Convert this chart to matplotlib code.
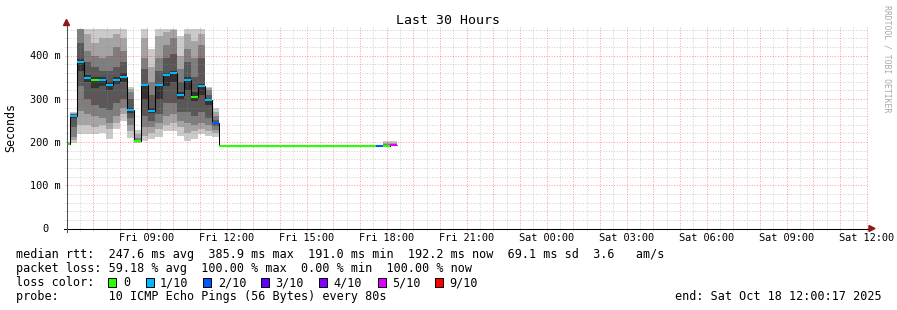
import numpy as np
import matplotlib
matplotlib.use("Agg")
import matplotlib.pyplot as plt
from matplotlib.patches import Rectangle, Polygon
from matplotlib import transforms

# ---------------- data ----------------
title = "Last 30 Hours"
y_label = "Seconds"
x_tick_hours = [3, 6, 9, 12, 15, 18, 21, 24, 27, 30]
x_tick_labels = ["Fri 09:00", "Fri 12:00", "Fri 15:00", "Fri 18:00", "Fri 21:00",
                 "Sat 00:00", "Sat 03:00", "Sat 06:00", "Sat 09:00", "Sat 12:00"]
y_ticks_ms = [100, 200, 300, 400]
y_tick_labels = ["100 m", "200 m", "300 m", "400 m"]
y_max_ms = 463.08
span_hours = 30
step_hours = 16 / 60          # one consolidated sample = 16 min
first_bin_hour = -0.13        # start of first (partly visible) sample

median_ms = [195.0, 261.0, 385.7, 349.0, 344.0, 344.0, 332.0, 344.0, 351.0, 275.0,
             203.0, 333.0, 273.0, 332.0, 356.0, 361.0, 309.0, 344.0, 305.0, 329.0,
             297.0, 244.0,
             191.0, 191.0, 191.0, 191.0, 191.0, 191.0, 191.0, 191.0, 191.0, 191.0, 191.0,
             191.0, 191.0, 191.0, 191.0, 191.0, 191.0, 191.0, 191.0, 191.0, 191.0, 191.0,
             191.0, 191.5, 192.2]

loss_count = [0, 1, 1, 1, 0, 1, 1, 1, 1, 1,
              0, 1, 1, 1, 1, 1, 1, 1, 0, 1,
              1, 2,
              0, 0, 0, 0, 0, 0, 0, 0, 0, 0, 0,
              0, 0, 0, 0, 0, 0, 0, 0, 0, 0, 0,
              2, 0, 5]

pings_ms = [
    [193, 194, 194, 195, 195, 195, 196, 197, 198, 200],
    [198, 205, 212, 236, 256, 263, 265, 266, 268, 270],
    [218, 240, 272, 330, 365, 392, 430, 475, 510, 530],
    [218, 240, 265, 300, 340, 355, 385, 410, 450, 490],
    [218, 235, 260, 285, 325, 350, 375, 400, 430, 500],
    [220, 240, 255, 280, 330, 350, 365, 395, 440, 490],
    [207, 230, 245, 275, 320, 340, 365, 400, 440, 490],
    [230, 245, 260, 290, 335, 350, 375, 420, 450, 490],
    [250, 265, 280, 300, 340, 360, 385, 410, 440, 480],
    [210, 225, 240, 255, 268, 280, 300, 315, 322, 328],
    [199, 200, 201, 202, 202.5, 204, 206, 210, 218, 227],
    [203, 215, 235, 260, 300, 335, 370, 395, 440, 480],
    [207, 220, 235, 250, 268, 280, 310, 340, 375, 415],
    [211, 230, 245, 265, 300, 335, 365, 395, 445, 500],
    [226, 240, 260, 290, 330, 360, 395, 425, 455, 500],
    [226, 245, 265, 290, 340, 365, 405, 440, 460, 500],
    [215, 235, 250, 270, 300, 315, 340, 370, 400, 446],
    [203, 220, 245, 270, 320, 350, 385, 415, 450, 500],
    [207, 225, 240, 260, 295, 315, 350, 395, 435, 480],
    [218, 230, 245, 270, 310, 335, 395, 425, 450, 490],
    [215, 225, 240, 255, 285, 300, 310, 320, 325, 328],
    [211, 220, 228, 238, 242, 246, 252, 260, 270, 280],
    None, None, None, None, None, None, None, None, None, None, None,
    None, None, None, None, None, None, None, None, None, None, None,
    None,
    [191, 191, 191, 191, 191.5, 192, 193, 195, 198, 202],
    [191, 191.5, 192, 192, 192, 192.5, 193, 194, 197, 202],
]

loss_colors = {0: "#26ff00", 1: "#00b8ff", 2: "#0059ff", 3: "#5e00ff",
               4: "#7e00ff", 5: "#dd00ff", 9: "#ff0000"}
legend_loss_keys = [0, 1, 2, 3, 4, 5, 9]
legend_loss_labels = ["0", "1/10", "2/10", "3/10", "4/10", "5/10", "9/10"]

stat_avg, stat_max, stat_min, stat_now, stat_sd, stat_ams = 247.6, 385.9, 191.0, 192.2, 69.1, 3.6
loss_avg, loss_max, loss_min, loss_now = 59.18, 100.00, 0.00, 100.00
probe_text = "10 ICMP Echo Pings (56 Bytes) every 80s"
end_text = "end: Sat Oct 18 12:00:17 2025"
watermark = "RRDTOOL / TOBI OETIKER"

# ---------------- layout ----------------
W, H = 897, 310
X0, X1 = 66.5, 866.5
YB, PH = 228.5, 200.0
MONO = "DejaVu Sans Mono"

def fx(x):
    return x / W

def fy(y):
    return 1 - y / H

fig = plt.figure(figsize=(W / 100, H / 100), dpi=100)
fig.patch.set_facecolor("white")
ax = fig.add_axes([fx(X0), (H - YB) / H, (X1 - X0) / W, PH / H])
ax.set_xlim(0, span_hours)
ax.set_ylim(0, y_max_ms)
ax.axis("off")

n = len(median_ms)
bin_start = first_bin_hour + step_hours * np.arange(n)
edges = np.append(bin_start, bin_start[-1] + step_hours)

# smoke
smoke_colors = ["#cacaca", "#a4a4a4", "#7e7e7e", "#585858", "#323232"]
for i in range(5):
    xs, bots, hts = [], [], []
    for k, p in enumerate(pings_ms):
        if p is None:
            continue
        s = sorted(p)
        xs.append(bin_start[k])
        bots.append(s[i])
        hts.append(s[9 - i] - s[i])
    ax.bar(xs, hts, bottom=bots, width=step_hours, align="edge",
           color=smoke_colors[i], linewidth=0, antialiased=False, zorder=2)

# grid (dotted, drawn over the smoke like rrdtool)
ext_y = 2 / PH
ext_x = 2 / (X1 - X0)
tx = ax.get_xaxis_transform()
ty = ax.get_yaxis_transform()
dash = (0, (1, 1.6))
minor_kw = dict(color="#909090", alpha=0.42, lw=0.72, ls=dash, clip_on=False, zorder=3)
major_kw = dict(color="#ff0000", alpha=0.38, lw=0.72, ls=dash, clip_on=False, zorder=3)
for h in np.arange(0.5, span_hours, 1.0):
    ax.plot([h, h], [-ext_y, 1 + ext_y], transform=tx, **minor_kw)
for h in range(1, span_hours + 1):
    ax.plot([h, h], [-ext_y, 1 + ext_y], transform=tx, **major_kw)
for v in range(20, int(y_max_ms), 20):
    kw = major_kw if v % 100 == 0 else minor_kw
    ax.plot([-ext_x, 1], [v, v], transform=ty, **kw)

# median line + loss colored segments
ax.stairs(median_ms, edges, baseline=None, color="#000000", lw=0.75, zorder=4)
ax.hlines(median_ms, edges[:-1], edges[1:],
          colors=[loss_colors[c] for c in loss_count], lw=1.5, zorder=5)

# axes lines with arrows
ax.plot([-3 / 800, 1.004], [0, 0], transform=ax.transAxes, color="black",
        lw=0.75, clip_on=False, zorder=6)
ax.plot([0, 0], [-3 / PH, 1.02], transform=ax.transAxes, color="#505050",
        lw=0.75, clip_on=False, zorder=6)
arrow_col = "#8b1a1a"
fig.patches.append(Polygon([(fx(869), fy(225.5)), (fx(869), fy(231.5)), (fx(875), fy(228.5))],
                           closed=True, transform=fig.transFigure, color=arrow_col))
fig.patches.append(Polygon([(fx(63.5), fy(25.5)), (fx(69.5), fy(25.5)), (fx(66.5), fy(19.5))],
                           closed=True, transform=fig.transFigure, color=arrow_col))

# tick labels
tl_x = transforms.blended_transform_factory(ax.transData, fig.transFigure)
for h, lab in zip(x_tick_hours, x_tick_labels):
    ax.text(h, fy(241), lab, transform=tl_x, ha="center", va="baseline",
            fontsize=7.4, family=MONO, color="#000000")
tl_y = transforms.offset_copy(transforms.blended_transform_factory(fig.transFigure, ax.transData),
                              fig=fig, y=-3.6, units="dots")
for v, lab in zip(y_ticks_ms, y_tick_labels):
    ax.text(fx(61), v, lab, transform=tl_y, ha="right", va="baseline",
            fontsize=7.4, family=MONO, color="#000000")
ax.text(fx(48.7), 0, "0", transform=tl_y, ha="right", va="baseline",
        fontsize=7.4, family=MONO, color="#000000")

# title, labels
fig.text(fx(448), fy(24), title, ha="center", va="baseline", fontsize=9.5, family=MONO)
fig.text(fx(10.7), fy(127.5), y_label, rotation=90, ha="center", va="center",
         fontsize=8.4, family=MONO)
fig.text(fx(886.5), fy(59), watermark, rotation=270, ha="center", va="center",
         fontsize=5.9, family=MONO, color="#a8a8a8")

# legend
line1 = (f"median rtt:  {stat_avg:.1f} ms avg  {stat_max:.1f} ms max  {stat_min:.1f} ms min  "
         f"{stat_now:.1f} ms now  {stat_sd:.1f} ms sd  {stat_ams:.1f}   am/s")
line2 = (f"packet loss: {loss_avg:.2f} % avg  {loss_max:.2f} % max  {loss_min:.2f} % min  "
         f"{loss_now:.2f} % now")
fig.text(fx(15.5), fy(258.3), line1, ha="left", va="baseline", fontsize=8.45, family=MONO)
fig.text(fx(15.5), fy(272.3), line2, ha="left", va="baseline", fontsize=8.45, family=MONO)
fig.text(fx(15.5), fy(286.3), "loss color:", ha="left", va="baseline", fontsize=8.45, family=MONO)
fig.text(fx(15.5), fy(300.3), "probe:       " + probe_text, ha="left", va="baseline",
         fontsize=8.45, family=MONO)
fig.text(fx(881.5), fy(300.3), end_text, ha="right", va="baseline", fontsize=8.45, family=MONO)

sq_x = [108.3, 146.0, 203.3, 261.0, 319.3, 377.7, 435.3]
lab_x = [122.8, 159.5, 217.8, 275.5, 333.8, 392.2, 449.5]
for key, lab, sx, lx in zip(legend_loss_keys, legend_loss_labels, sq_x, lab_x):
    fig.patches.append(Rectangle((fx(sx), fy(286.5)), 8 / W, 8.5 / H, transform=fig.transFigure,
                                 facecolor=loss_colors[key], edgecolor="black", lw=0.7))
    fig.text(fx(lx), fy(286.3), lab, ha="left", va="baseline", fontsize=8.45, family=MONO)

fig.savefig("out.png", dpi=100, facecolor="white")
